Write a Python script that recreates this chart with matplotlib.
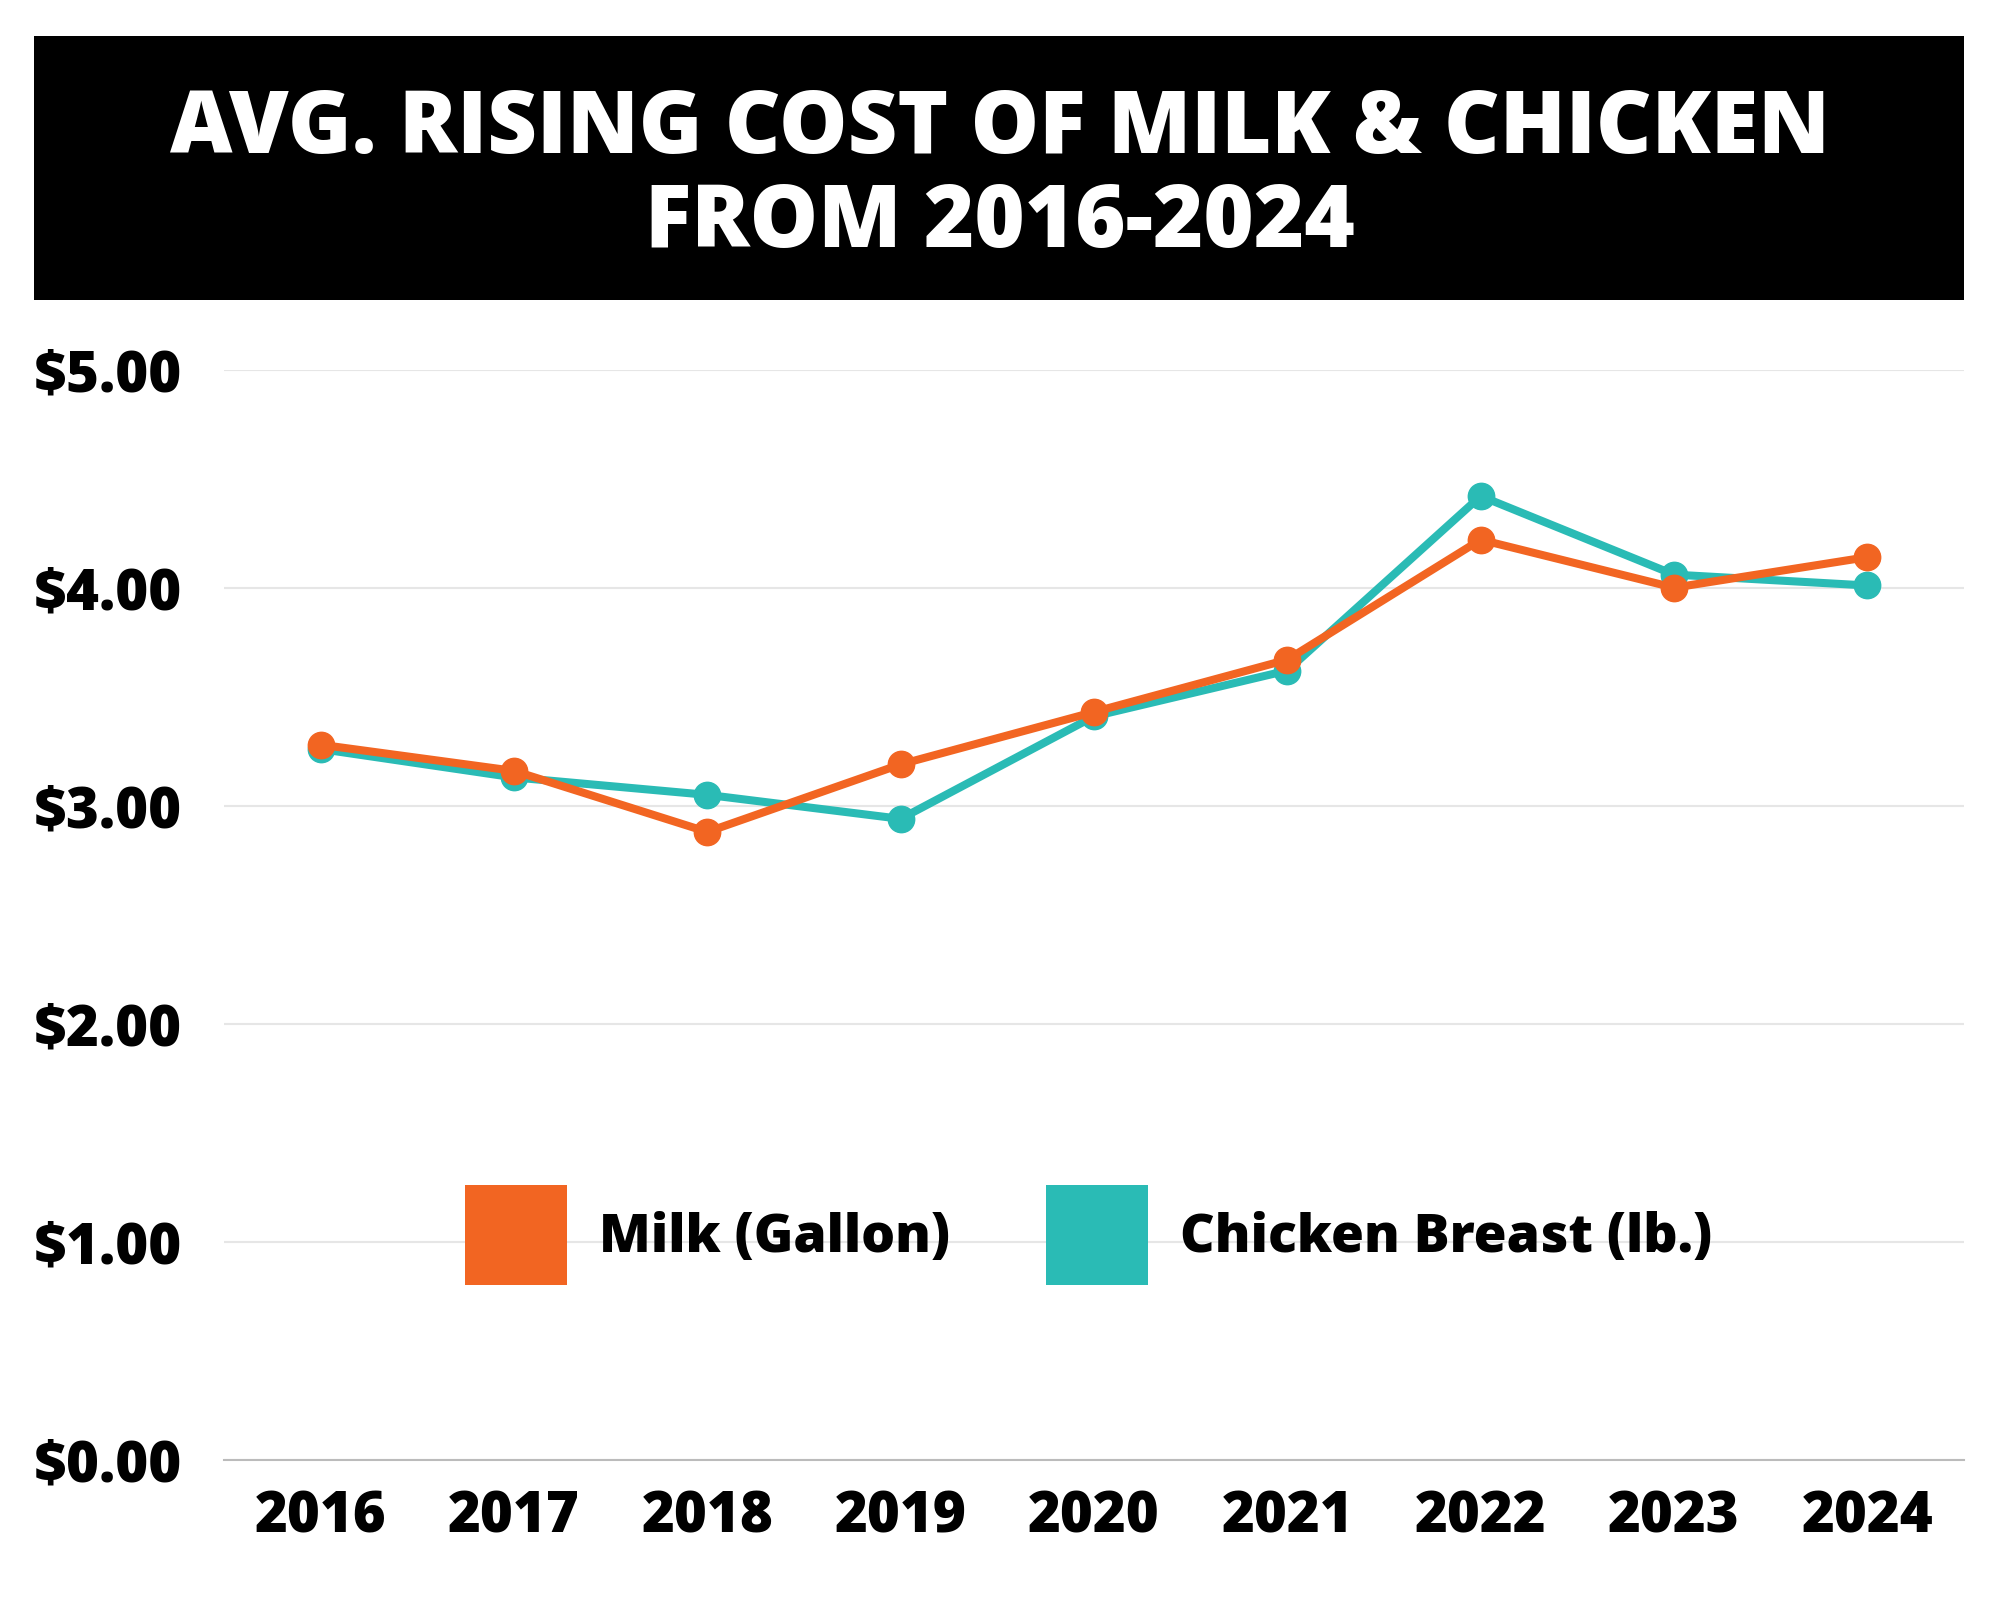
import matplotlib
matplotlib.use("Agg")
import matplotlib.pyplot as plt
from matplotlib.patches import Rectangle, Patch

years = ["2016", "2017", "2018", "2019", "2020", "2021", "2022", "2023", "2024"]
milk = [3.28, 3.16, 2.88, 3.19, 3.43, 3.67, 4.22, 4.00, 4.14]
chicken = [3.26, 3.13, 3.05, 2.94, 3.41, 3.62, 4.42, 4.06, 4.01]
yticks = [0, 1, 2, 3, 4, 5]
ytick_labels = ["$0.00", "$1.00", "$2.00", "$3.00", "$4.00", "$5.00"]
series_names = ["Milk (Gallon)", "Chicken Breast (lb.)"]
title_text = "AVG. RISING COST OF MILK & CHICKEN\nFROM 2016-2024"

ORANGE = "#F26522"
TEAL = "#2ABBB5"

plt.rcParams['font.family'] = ['Open Sans', 'DejaVu Sans']
W = 800

fig = plt.figure(figsize=(20, 16), dpi=100)
fig.patch.set_facecolor("white")

# Title banner
fig.patches.append(Rectangle((0.017, 0.8125), 0.965, 0.165, transform=fig.transFigure,
                             facecolor="black", edgecolor="none", zorder=0))
fig.text(0.5, 0.889, title_text, ha="center", va="center", color="white",
         fontsize=62, fontweight=W, linespacing=1.1)

ax = fig.add_axes([0.112, 0.0875, 0.870, 0.6815])
x = list(range(len(years)))
ax.plot(x, chicken, color=TEAL, lw=5.8, marker="o", ms=19, clip_on=False, zorder=3,
        solid_joinstyle="round")
ax.plot(x, milk, color=ORANGE, lw=5.8, marker="o", ms=19, clip_on=False, zorder=4,
        solid_joinstyle="round")

ax.set_xlim(-0.5, len(years) - 0.5)
ax.set_ylim(0, 5)
ax.set_xticks(x)
ax.set_xticklabels(years)
ax.set_yticks(yticks)
ax.set_yticklabels(ytick_labels, ha="left")
ax.tick_params(axis="both", length=0, labelsize=40.5)
ax.tick_params(axis="y", pad=137)
ax.tick_params(axis="x", pad=21)
for lab in ax.get_xticklabels() + ax.get_yticklabels():
    lab.set_fontweight(W)

ax.grid(axis="y", color="#e6e6e6", lw=1.5)
ax.set_axisbelow(True)
for s in ["top", "right", "left"]:
    ax.spines[s].set_visible(False)
ax.spines["bottom"].set_color("#bbbbbb")
ax.spines["bottom"].set_linewidth(1.5)

handles = [Patch(facecolor=ORANGE, edgecolor="none"), Patch(facecolor=TEAL, edgecolor="none")]
leg = ax.legend(handles, series_names, loc="center", bbox_to_anchor=(0.497, 0.206),
                ncol=2, frameon=False, handlelength=1.9, handleheight=2.5,
                handletextpad=0.6, columnspacing=1.8,
                prop={"weight": W, "size": 38.5})

fig.savefig("out.png", dpi=100, facecolor="white")
